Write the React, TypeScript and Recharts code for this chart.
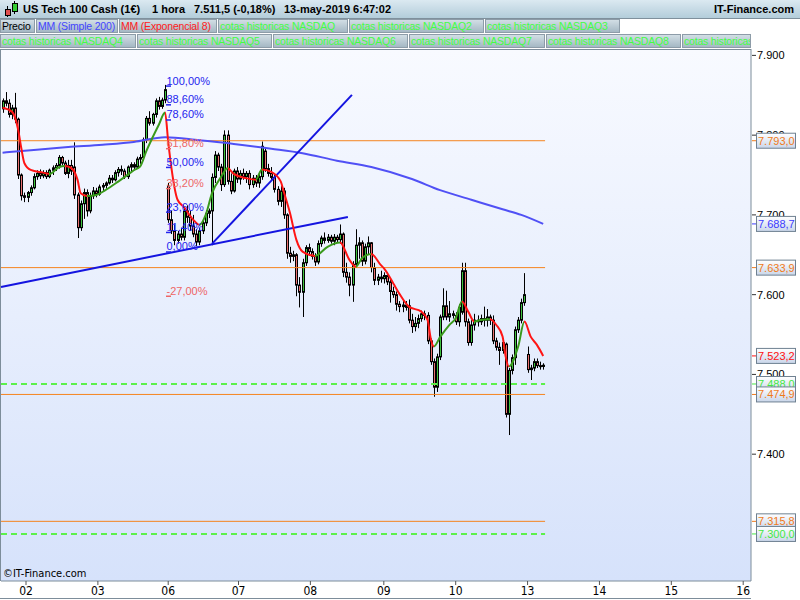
import React from "react";
import {
  ComposedChart,
  XAxis,
  YAxis,
  Bar,
  Line,
  ReferenceLine,
  ReferenceDot,
} from "recharts";

// hourly candles, 1 may -> 13 may 2019 (index = 1h bar)
const open = [
  7833, 7843, 7840, 7826, 7834, 7820, 7750, 7724,
  7722, 7728, 7734, 7748, 7752, 7749, 7753, 7748, 7756, 7759, 7762, 7772, 7765, 7752, 7762, 7760, 7725, 7684, 7714, 7728, 7705, 7724, 7730,
  7726, 7735, 7737, 7740, 7746, 7744, 7753, 7757, 7755, 7748, 7760, 7763, 7760, 7770, 7772, 7794, 7821, 7815, 7826, 7843, 7836, 7844,
  7736, 7694, 7680, 7668, 7676, 7672, 7705, 7697, 7686, 7676, 7666, 7680, 7690, 7702, 7705, 7747, 7775, 7760, 7738, 7800, 7742, 7730, 7755,
  7745, 7752, 7748, 7752, 7738, 7746, 7740, 7748, 7780, 7758, 7752, 7747, 7732, 7717, 7730, 7700, 7652, 7648, 7650, 7612, 7603, 7640, 7659,
  7654, 7648, 7641, 7664, 7671, 7668, 7672, 7667, 7672, 7669, 7676, 7628, 7622, 7612, 7638, 7662, 7665, 7642, 7660, 7665, 7634, 7618, 7622,
  7620, 7624, 7616, 7604, 7600, 7588, 7585, 7587, 7586, 7568, 7560, 7564, 7570, 7576, 7574, 7542, 7516, 7484, 7522, 7572, 7586, 7572, 7576,
  7574, 7566, 7578, 7630, 7566, 7540, 7562, 7568, 7566, 7570, 7568, 7572, 7568, 7542, 7534, 7530, 7538, 7450, 7505, 7521, 7556, 7568, 7590,
  7525, 7506, 7508, 7516, 7511, 7510,
];
const high = [
  7846, 7854, 7845, 7838, 7853, 7822, 7752, 7728,
  7730, 7737, 7752, 7756, 7757, 7756, 7756, 7758, 7762, 7765, 7775, 7774, 7768, 7769, 7769, 7791, 7728, 7718, 7733, 7732, 7728, 7735, 7734,
  7738, 7740, 7742, 7750, 7750, 7756, 7760, 7762, 7758, 7762, 7766, 7766, 7773, 7776, 7797, 7824, 7830, 7828, 7846, 7848, 7847, 7863,
  7740, 7705, 7688, 7680, 7684, 7710, 7712, 7705, 7700, 7682, 7684, 7694, 7706, 7708, 7752, 7780, 7778, 7764, 7806, 7806, 7752, 7758, 7760,
  7756, 7758, 7755, 7756, 7750, 7750, 7752, 7792, 7784, 7764, 7760, 7750, 7736, 7736, 7734, 7702, 7660, 7655, 7652, 7622, 7645, 7662, 7664,
  7658, 7652, 7668, 7674, 7678, 7676, 7675, 7676, 7675, 7688, 7678, 7640, 7628, 7642, 7682, 7672, 7668, 7664, 7673, 7666, 7640, 7626, 7630,
  7628, 7628, 7620, 7610, 7604, 7592, 7592, 7592, 7594, 7576, 7572, 7575, 7580, 7580, 7578, 7545, 7520, 7526, 7575, 7608, 7605, 7592, 7580,
  7578, 7588, 7640, 7640, 7570, 7568, 7576, 7574, 7575, 7585, 7582, 7575, 7574, 7546, 7540, 7545, 7540, 7508, 7525, 7560, 7572, 7595, 7627,
  7535, 7512, 7520, 7520, 7516, 7514,
];
const low = [
  7828, 7836, 7822, 7820, 7815, 7745, 7718, 7716,
  7716, 7724, 7732, 7744, 7745, 7746, 7745, 7746, 7750, 7755, 7758, 7762, 7750, 7746, 7750, 7720, 7671, 7680, 7695, 7698, 7702, 7720, 7722,
  7724, 7730, 7733, 7738, 7740, 7742, 7748, 7750, 7745, 7745, 7755, 7756, 7758, 7764, 7768, 7790, 7812, 7812, 7822, 7832, 7833, 7840,
  7690, 7676, 7662, 7664, 7668, 7668, 7690, 7680, 7672, 7661, 7662, 7676, 7686, 7696, 7662, 7740, 7755, 7730, 7735, 7738, 7726, 7728, 7740,
  7738, 7744, 7740, 7732, 7734, 7735, 7734, 7744, 7754, 7748, 7744, 7728, 7712, 7710, 7695, 7645, 7640, 7642, 7598, 7584, 7572, 7636, 7650,
  7644, 7636, 7638, 7660, 7664, 7665, 7664, 7662, 7666, 7664, 7622, 7615, 7598, 7591, 7634, 7645, 7636, 7638, 7650, 7628, 7612, 7612, 7615,
  7614, 7612, 7590, 7596, 7580, 7578, 7578, 7580, 7564, 7552, 7554, 7558, 7566, 7568, 7538, 7512, 7472, 7478, 7518, 7568, 7568, 7566, 7570,
  7562, 7560, 7575, 7560, 7536, 7536, 7555, 7560, 7562, 7560, 7560, 7562, 7538, 7530, 7512, 7526, 7446, 7424, 7500, 7512, 7552, 7564, 7586,
  7502, 7493, 7504, 7508, 7506, 7506,
];
const close = [
  7843, 7840, 7826, 7834, 7820, 7750, 7724, 7722,
  7728, 7734, 7748, 7752, 7749, 7753, 7748, 7756, 7759, 7762, 7772, 7765, 7752, 7762, 7755, 7725, 7684, 7714, 7728, 7705, 7724, 7730, 7726,
  7735, 7737, 7740, 7746, 7744, 7753, 7757, 7755, 7748, 7760, 7763, 7760, 7770, 7772, 7794, 7821, 7815, 7826, 7843, 7836, 7844, 7857,
  7694, 7680, 7668, 7676, 7672, 7705, 7697, 7686, 7676, 7666, 7680, 7690, 7702, 7705, 7747, 7775, 7760, 7738, 7800, 7742, 7730, 7755, 7745,
  7752, 7748, 7752, 7738, 7746, 7740, 7748, 7786, 7758, 7752, 7747, 7732, 7717, 7730, 7700, 7652, 7648, 7650, 7612, 7603, 7640, 7659, 7654,
  7648, 7641, 7664, 7671, 7668, 7672, 7667, 7672, 7669, 7676, 7628, 7622, 7612, 7638, 7662, 7665, 7642, 7660, 7665, 7634, 7618, 7622, 7620,
  7624, 7616, 7604, 7600, 7588, 7585, 7587, 7584, 7568, 7560, 7564, 7570, 7576, 7574, 7542, 7516, 7484, 7522, 7572, 7586, 7572, 7576, 7574,
  7566, 7584, 7630, 7566, 7540, 7562, 7568, 7566, 7570, 7568, 7572, 7568, 7542, 7534, 7530, 7540, 7450, 7505, 7521, 7556, 7568, 7590, 7600,
  7506, 7508, 7516, 7511, 7510, 7511.5,
];

// MM (Exponencial 8) at its bends
const emaIdx = [
  0, 3, 5, 6, 7, 9, 13, 15, 18, 20, 22, 24, 25, 27, 30, 33, 37, 40, 42, 44, 46, 48, 50, 52,
  53, 54, 56, 58, 61, 63, 65, 67, 70, 72, 74, 78, 81, 83, 86, 89, 90, 92, 94, 96,
  100, 104, 108, 111, 113, 115, 118, 121, 122, 125, 127, 130, 134, 136, 137, 138, 140,
  143, 145, 147, 149, 151, 153, 156, 158, 160, 161, 162, 165, 167, 169, 171, 173,
];
const emaVal = [
  7834.4, 7829.5, 7806.6, 7783.6, 7764.8, 7756.4, 7753, 7751.4, 7759.8, 7761.4, 7758.6, 7743.9, 7727.2, 7723.8, 7725, 7731.3, 7741.8, 7750.2, 7756, 7760.5, 7780, 7797, 7813, 7828.3,
  7792, 7760, 7719, 7710, 7694, 7687.5, 7700, 7727, 7748, 7758.6, 7751.4, 7746, 7744, 7757, 7754, 7742, 7729, 7702, 7669, 7654,
  7648.6, 7660, 7665.3, 7643.6, 7635.2, 7645.7, 7651, 7637.3, 7633.2, 7614.4, 7601, 7585, 7578.7, 7568.3, 7545.4, 7535, 7546.7,
  7562, 7570.5, 7591.3, 7578.7, 7566.2, 7568.3, 7569.2, 7562, 7547.4, 7522.3, 7510, 7535, 7566.2, 7547.4, 7537, 7523.2,
];

// MM (Simple 200)
const smaIdx = [0, 10, 21, 32, 42, 52, 63, 74, 86, 96, 107, 118, 131, 140, 150, 160, 166, 173];
const smaVal = [7778, 7781.5, 7785, 7788, 7791.5, 7797.5, 7793.5, 7789, 7783, 7777.4, 7768, 7760, 7745, 7731, 7719, 7707, 7700, 7688.7];

const dayTicks = [7.5, 30.5, 53, 75.5, 98.5, 122, 145, 168, 191, 214, 237];
const dayLabels = ["02", "03", "06", "07", "08", "09", "10", "13", "14", "15", "16"];
const priceTicks = [7400, 7500, 7600, 7700, 7800, 7900];

const orangeLevels = [7793.0, 7633.9, 7474.9, 7315.8];
const greenLevels = [7488.0, 7300.0];
const badgeValues = [7793.0, 7688.7, 7633.9, 7523.2, 7488.0, 7474.9, 7315.8, 7300.0];
const badgeColors = ["#f07a1a", "#3b3bff", "#f07a1a", "#ff1010", "#44e844", "#f07a1a", "#f07a1a", "#44e844"];

const fibLabels = ["100,00%", "88,60%", "78,60%", "61,80%", "50,00%", "38,20%", "23,60%", "11,40%", "0,00%", "-27,00%"];
const fibLevels = [7861.5, 7838.0, 7819.0, 7783.0, 7759.5, 7733.0, 7703.5, 7678.0, 7653.5, 7598.0];
const fibRed = ["61,80%", "38,20%", "-27,00%"];

const trendLines = [
  [{ x: -0.5, y: 7609.7 }, { x: 110.5, y: 7697.5 }],
  [{ x: 67, y: 7663.6 }, { x: 111.8, y: 7850.5 }],
];

const FONT = "'Liberation Sans', Arial, sans-serif";
const NARROW = "'Liberation Sans Narrow', 'DejaVu Sans Condensed', 'Liberation Sans', sans-serif";
const GREEN = "#3a9a1c";
const RED = "#ff1414";

const rows = close.map((c, i) => {
  const e = emaIdx.indexOf(i);
  const s = smaIdx.indexOf(i);
  return {
    i,
    o: open[i],
    h: high[i],
    l: low[i],
    c,
    range: [low[i], high[i]],
    ema: e >= 0 ? emaVal[e] : null,
    sma: s >= 0 ? smaVal[s] : null,
  };
});

// red while the EMA falls, green while it rises
const emaSpan = emaIdx[emaIdx.length - 1] - emaIdx[0];
const emaStops = emaIdx.slice(1).flatMap((i, k) => {
  const col = emaVal[k + 1] >= emaVal[k] ? GREEN : RED;
  return [
    <stop key={"a" + k} offset={(emaIdx[k] - emaIdx[0]) / emaSpan} stopColor={col} />,
    <stop key={"b" + k} offset={(i - emaIdx[0]) / emaSpan} stopColor={col} />,
  ];
});

const fmtBadge = (v: number) => {
  const s = v.toFixed(1).replace(".", ",");
  return s.slice(0, -5) + "." + s.slice(-5);
};
const fmtTick = (v: number) => {
  const s = String(v);
  return s.slice(0, -3) + "." + s.slice(-3);
};

function Candle(props: any) {
  const { x, y, width, height, payload } = props;
  if (x == null || !payload) return null;
  const top = Math.min(y, y + height);
  const span = Math.abs(height);
  const { o, h, l, c } = payload;
  const rng = h - l || 1;
  const py = (v: number) => top + ((h - v) / rng) * span;
  const cx = Math.round(x + width / 2);
  const b1 = py(Math.max(o, c));
  const b2 = py(Math.min(o, c));
  return (
    <g>
      <line x1={cx + 0.5} x2={cx + 0.5} y1={top} y2={top + span} stroke="#000" strokeWidth={1} />
      <rect
        x={cx - 0.5}
        y={b1}
        width={2}
        height={Math.max(b2 - b1, 1)}
        fill={c >= o ? "#3fc23f" : "#e87070"}
        stroke="#000"
        strokeWidth={1}
      />
    </g>
  );
}

function PriceTick(props: any) {
  const { y, payload } = props;
  const v = payload.value;
  const b = badgeValues.indexOf(v);
  if (b < 0) {
    return (
      <g>
        <line x1={752} x2={756} y1={y} y2={y} stroke="#333" />
        <text x={757} y={y + 4} fontSize={11} fill="#000" fontFamily={FONT}>
          {fmtTick(v)}
        </text>
      </g>
    );
  }
  return (
    <g>
      <line x1={752} x2={756} y1={y} y2={y} stroke={badgeColors[b]} />
      <rect x={756.5} y={y - 7.5} width={39} height={15} fill="url(#badgeGrad)" stroke="#6f8191" />
      <text x={758} y={y + 4} fontSize={11} fill={badgeColors[b]} fontFamily={FONT}>
        {fmtBadge(v)}
      </text>
    </g>
  );
}

function FibMark(props: any) {
  const { cx, cy, text } = props;
  const col = fibRed.includes(text) ? "#ee6666" : "#2424ee";
  return (
    <g>
      <line x1={cx} x2={cx + 5} y1={cy} y2={cy} stroke={col} strokeWidth={1.5} />
      <text x={cx + 0.5} y={cy - 1.5} fontSize={11} fill={col} fontFamily={FONT}>
        {text}
      </text>
    </g>
  );
}

const tabs = [
  { t: "Precio", x: 0, y: 19, w: 35, c: "#000" },
  { t: "MM (Simple 200)", x: 36, y: 19, w: 82, c: "#4444ff" },
  { t: "MM (Exponencial 8)", x: 119, y: 19, w: 98, c: "#ff2020" },
  { t: "cotas historicas NASDAQ", x: 218, y: 19, w: 130, c: "#44ff44" },
  { t: "cotas historicas NASDAQ2", x: 349, y: 19, w: 135, c: "#44ff44" },
  { t: "cotas historicas NASDAQ3", x: 485, y: 19, w: 135, c: "#44ff44" },
  { t: "cotas historicas NASDAQ4", x: 0, y: 34, w: 136, c: "#44ff44" },
  { t: "cotas historicas NASDAQ5", x: 137, y: 34, w: 135, c: "#44ff44" },
  { t: "cotas historicas NASDAQ6", x: 273, y: 34, w: 135, c: "#44ff44" },
  { t: "cotas historicas NASDAQ7", x: 409, y: 34, w: 136, c: "#44ff44" },
  { t: "cotas historicas NASDAQ8", x: 546, y: 34, w: 135, c: "#44ff44" },
  { t: "cotas historicas NASDAQ9", x: 682, y: 34, w: 69, c: "#44ff44" },
];

const headerBits = [
  { t: "US Tech 100 Cash (1€)", x: 23 },
  { t: "1 hora", x: 152 },
  { t: "7.511,5 (-0,18%)", x: 194 },
  { t: "13-may-2019 6:47:02", x: 284 },
];

export default function App() {
  return (
    <div
      style={{
        position: "absolute",
        left: 0,
        top: 0,
        width: 800,
        height: 600,
        background: "#fff",
        overflow: "hidden",
        fontFamily: FONT,
      }}
    >
      {/* title bar */}
      <div
        style={{
          position: "absolute",
          left: 0,
          top: 0,
          width: 800,
          height: 18,
          background: "linear-gradient(#dbe9f1, #b3cdda)",
          borderBottom: "1px solid #7f909c",
        }}
      />
      <svg style={{ position: "absolute", left: 2, top: 1 }} width={18} height={17}>
        <line x1={5.5} x2={5.5} y1={5} y2={16} stroke="#000" />
        <rect x={3.5} y={8.5} width={5} height={6} fill="#e05050" stroke="#000" />
        <line x1={12.5} x2={12.5} y1={0} y2={13} stroke="#000" />
        <rect x={10.5} y={2.5} width={5} height={8} fill="#33cc33" stroke="#000" />
      </svg>
      {headerBits.map((b) => (
        <span
          key={b.t}
          style={{ position: "absolute", left: b.x, top: 2, fontSize: 11, fontWeight: "bold", lineHeight: "15px", whiteSpace: "nowrap" }}
        >
          {b.t}
        </span>
      ))}
      <span
        style={{ position: "absolute", right: 6, top: 2, fontSize: 11, fontWeight: "bold", lineHeight: "15px" }}
      >
        IT-Finance.com
      </span>

      {/* legend tabs */}
      {tabs.map((t) => (
        <div
          key={t.t}
          style={{
            position: "absolute",
            left: t.x,
            top: t.y,
            width: t.w,
            height: 14,
            boxSizing: "border-box",
            border: "1px solid #8d9ca8",
            background: "linear-gradient(#d2dee5, #a5b8c4)",
            color: t.c,
            fontSize: 10.5,
            letterSpacing: "-0.2px",
            lineHeight: "12px",
            paddingLeft: 1,
            whiteSpace: "nowrap",
            overflow: "hidden",
          }}
        >
          {t.t}
        </div>
      ))}

      {/* plot background */}
      <div
        style={{
          position: "absolute",
          left: 0,
          top: 49,
          width: 751,
          height: 532,
          boxSizing: "border-box",
          borderLeft: "1px solid #7d8d9a",
          borderTop: "1px solid #7d8d9a",
          background: "linear-gradient(#f8faff, #d6e2fb)",
        }}
      />

      <div style={{ position: "absolute", left: 0, top: 0 }}>
        <ComposedChart
          width={800}
          height={600}
          data={rows}
          margin={{ top: 49, right: 0, bottom: 0, left: 1 }}
        >
          <defs>
            <linearGradient id="emaGrad" x1="0" y1="0" x2="1" y2="0">
              {emaStops}
            </linearGradient>
            <linearGradient id="badgeGrad" x1="0" y1="0" x2="0" y2="1">
              <stop offset="0" stopColor="#ffffff" />
              <stop offset="1" stopColor="#c9d6ea" />
            </linearGradient>
          </defs>
          <XAxis
            type="number"
            dataKey="i"
            domain={[-0.5, 239.5]}
            allowDataOverflow
            ticks={dayTicks}
            interval={0}
            tickFormatter={(v: number) => dayLabels[dayTicks.indexOf(v)]}
            height={19}
            tickSize={4}
            tickMargin={1}
            axisLine={{ stroke: "#7d8d9a" }}
            tickLine={{ stroke: "#555" }}
            tick={{ fontSize: 12, fill: "#000", fontFamily: NARROW }}
          />
          <YAxis
            orientation="right"
            domain={[7241, 7908]}
            allowDataOverflow
            ticks={[...priceTicks, ...badgeValues]}
            interval={0}
            width={49}
            tickLine={false}
            axisLine={{ stroke: "#7d8d9a" }}
            tick={(p: any) => <PriceTick {...p} />}
          />

          {orangeLevels.map((v) => (
            <ReferenceLine
              key={"o" + v}
              segment={[{ x: -0.5, y: v }, { x: 173.6, y: v }]}
              stroke="#f5841f"
              strokeWidth={1}
            />
          ))}
          {greenLevels.map((v) => (
            <ReferenceLine
              key={"g" + v}
              segment={[{ x: -0.5, y: v }, { x: 173.6, y: v }]}
              stroke="#5cf04a"
              strokeWidth={2}
              strokeDasharray="6 4"
            />
          ))}
          {fibLevels.map((v, k) => (
            <ReferenceDot
              key={"f" + k}
              x={52.3}
              y={v}
              r={0}
              shape={(p: any) => <FibMark cx={p.cx} cy={p.cy} text={fibLabels[k]} />}
            />
          ))}

          <Line
            type="monotone"
            dataKey="sma"
            connectNulls
            stroke="#5050f5"
            strokeWidth={2}
            dot={false}
            activeDot={false}
            isAnimationActive={false}
          />
          <Bar
            dataKey="range"
            barSize={3}
            shape={(p: any) => <Candle {...p} />}
            isAnimationActive={false}
          />
          {trendLines.map((seg, k) => (
            <ReferenceLine key={"t" + k} segment={seg} stroke="#1414e0" strokeWidth={2} />
          ))}
          <Line
            type="monotone"
            dataKey="ema"
            connectNulls
            stroke="url(#emaGrad)"
            strokeWidth={2}
            dot={false}
            activeDot={false}
            isAnimationActive={false}
          />
        </ComposedChart>
      </div>

      {/* footer */}
      <span
        style={{ position: "absolute", left: 3, top: 567, fontSize: 11, fontFamily: NARROW, lineHeight: "13px" }}
      >
        ©IT-Finance.com
      </span>
      <div
        style={{
          position: "absolute",
          left: 0,
          top: 598,
          width: 751,
          height: 1,
          background: "#7d8d9a",
        }}
      />
    </div>
  );
}
